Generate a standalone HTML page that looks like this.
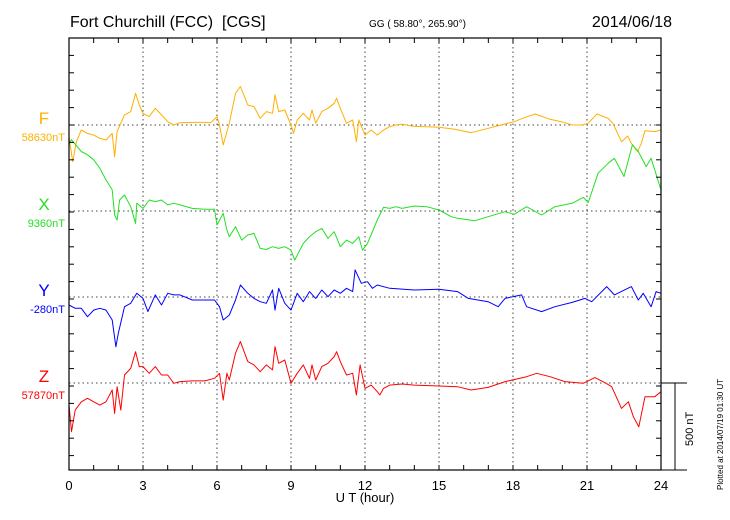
<!DOCTYPE html>
<html><head><meta charset="utf-8"><style>
body{margin:0;background:#fff;width:730px;height:520px;overflow:hidden}
svg{display:block;font-family:"Liberation Sans",sans-serif}
</style></head><body>
<svg id="chart" width="730" height="520" viewBox="0 0 730 520" xmlns="http://www.w3.org/2000/svg">
<text x="70" y="27" font-size="16" style="white-space:pre" xml:space="preserve">Fort Churchill (FCC)  [CGS]</text>
<text x="369" y="27" font-size="10">GG ( 58.80°, 265.90°)</text>
<text x="672" y="27" font-size="16" text-anchor="end">2014/06/18</text>
<text x="365" y="502" font-size="13" text-anchor="middle">U T (hour)</text>
<text transform="translate(723,490) rotate(-90)" font-size="8">Plotted at 2014/07/19 01:30 UT</text>
<text transform="translate(693,446) rotate(-90)" font-size="11">500 nT</text>
<g id="grid"></g><g id="series"></g><g id="axes"></g>
</svg>
<script>
const hourTicks = [0,3,6,9,12,15,18,21,24];
const channelNames = ["F","X","Y","Z"];
const channelBaselines = ["58630nT","9360nT","-280nT","57870nT"];
const scaleBarNT = 500;
const fSeries = [[0,-67],[0.15,-211],[0.3,-96],[0.5,-29],[0.75,-48],[1,-58],[1.25,-77],[1.5,-86],[1.75,-48],[1.85,-182],[1.95,-38],[2.25,58],[2.5,77],[2.7,182],[2.85,115],[3,67],[3.25,48],[3.5,96],[3.75,58],[4,19],[4.25,0],[4.5,13],[5,15],[5.5,15],[5.75,13],[6,48],[6.1,0],[6.25,-115],[6.5,10],[6.75,182],[6.95,221],[7.25,115],[7.5,106],[7.75,38],[8,77],[8.25,67],[8.35,173],[8.5,77],[8.75,86],[9,0],[9.1,-48],[9.25,29],[9.5,67],[9.75,29],[9.85,86],[10,10],[10.25,77],[10.5,96],[10.75,125],[10.85,154],[11,96],[11.25,10],[11.5,29],[11.65,-96],[11.75,29],[12,-58],[12.25,-29],[12.5,-58],[12.75,-29],[13,-10],[13.25,0],[13.5,4],[14,-8],[14.5,-10],[15,-13],[15.65,-25],[16.3,-44],[17,-19],[17.5,0],[18.05,19],[18.5,44],[18.9,63],[19.5,33],[19.96,19],[20.4,0],[20.8,0],[21.05,10],[21.4,63],[21.86,38],[22.05,10],[22.4,-96],[22.65,-63],[22.8,-106],[23.05,-153],[23.2,-106],[23.35,-33],[23.75,-38],[24,-29]];
const xSeries = [[0,390],[0.1,409],[0.5,342],[0.75,323],[1,294],[1.25,246],[1.5,179],[1.75,121],[1.85,-23],[1.95,-52],[2.05,63],[2.25,92],[2.5,25],[2.7,-71],[2.75,44],[3,15],[3.25,63],[3.5,54],[3.75,63],[4,35],[4.25,44],[4.5,35],[5,15],[5.5,10],[5.9,10],[6,-81],[6.25,-13],[6.4,-109],[6.5,-148],[6.75,-90],[7,-167],[7.25,-138],[7.5,-129],[7.75,-215],[8,-221],[8.25,-205],[8.5,-215],[8.75,-205],[9,-225],[9.15,-282],[9.5,-186],[9.75,-148],[10,-119],[10.25,-100],[10.5,-157],[10.75,-119],[11,-205],[11.25,-167],[11.5,-186],[11.75,-148],[11.9,-225],[12.1,-186],[12.5,-52],[12.75,21],[13,15],[13.25,25],[13.5,15],[14,29],[14.5,25],[15,6],[15.5,-33],[15.75,-42],[16.46,-56],[16.99,-33],[17.68,-4],[18.05,-19],[18.55,25],[19.16,-23],[19.7,25],[20.4,44],[20.85,79],[21.05,48],[21.45,217],[21.86,275],[22.11,303],[22.5,198],[22.84,380],[23.08,342],[23.4,255],[23.6,303],[24,121]];
const ySeries = [[0,-46],[0.25,-65],[0.5,-65],[0.75,-113],[1,-75],[1.25,-65],[1.5,-75],[1.75,-132],[1.9,-286],[2,-209],[2.25,-56],[2.5,-36],[2.75,21],[3,-8],[3.2,-84],[3.5,12],[3.75,-46],[4,21],[4.25,12],[4.5,12],[5,-17],[5.5,-17],[5.9,-17],[6.1,-56],[6.25,-132],[6.5,-104],[6.75,-17],[6.95,69],[7.25,21],[7.5,-8],[7.75,-27],[8,-36],[8.25,40],[8.35,-75],[8.5,50],[8.75,-36],[9,-75],[9.25,21],[9.5,-27],[9.75,31],[10,-8],[10.25,40],[10.5,2],[10.75,40],[11,21],[11.25,50],[11.5,31],[11.6,156],[11.85,79],[12.1,88],[12.3,50],[12.5,69],[13,50],[14,40],[15,44],[15.75,31],[16.19,-8],[16.99,-27],[17.4,-56],[17.68,-8],[18.35,12],[18.55,-56],[19.16,-84],[19.7,-56],[20.4,-31],[20.92,-8],[21.19,-27],[21.8,60],[22.11,12],[22.8,60],[23.08,-17],[23.28,21],[23.6,-56],[23.8,31],[24,21]];
const zSeries = [[0,-127],[0.1,-280],[0.25,-156],[0.5,-108],[0.75,-88],[1,-108],[1.25,-127],[1.5,-108],[1.75,-40],[1.85,-175],[1.95,-21],[2.1,-156],[2.25,46],[2.5,84],[2.7,180],[2.85,94],[3,94],[3.25,56],[3.5,94],[3.75,46],[4,46],[4.25,-2],[4.5,8],[5,12],[5.5,12],[5.9,27],[6.1,56],[6.25,-98],[6.4,56],[6.5,17],[6.75,171],[6.95,238],[7.25,123],[7.5,104],[7.75,65],[8,104],[8.25,75],[8.35,209],[8.5,113],[8.75,132],[9,-2],[9.25,56],[9.5,104],[9.75,27],[9.85,104],[10,17],[10.25,94],[10.5,113],[10.75,152],[10.85,180],[11,123],[11.25,46],[11.5,56],[11.65,-69],[11.8,104],[12,-31],[12.25,-12],[12.5,-50],[12.6,-69],[12.75,-31],[13,-12],[13.5,-6],[14,-12],[15,-17],[15.75,-21],[16.3,-40],[16.99,-25],[17.68,8],[18.55,36],[18.96,56],[19.5,36],[20.1,8],[20.85,-2],[21.32,31],[21.73,2],[22,-21],[22.4,-146],[22.68,-108],[22.88,-194],[23.1,-252],[23.35,-79],[23.75,-79],[24,-50]];

const L=69,R=661,T=38,B=470;
const bases=[125,211,297,383];
const colors=["#ffb000","#22e022","#0000ff","#ff0000"];
const pxPerNT=87/scaleBarNT;
const xs=h=>L+(R-L)*h/24;
const ys=(v,i)=>bases[i]-v*pxPerNT;
const NS="http://www.w3.org/2000/svg";
function mk(tag,attrs,parent){const e=document.createElementNS(NS,tag);for(const k in attrs)e.setAttribute(k,attrs[k]);parent.appendChild(e);return e;}
const grid=document.getElementById('grid'),ser=document.getElementById('series'),ax=document.getElementById('axes');
hourTicks.slice(1,-1).forEach(h=>{const l=mk('line',{x1:xs(h),x2:xs(h),y1:T,y2:B,stroke:'#444','stroke-width':1,'stroke-dasharray':'1.5,3'},grid);

});
bases.forEach((b,i)=>{const l=mk('line',{x1:L,x2:R,y1:b,y2:b,stroke:'#444','stroke-width':1,'stroke-dasharray':'1.5,3'},grid);

});
[fSeries,xSeries,ySeries,zSeries].forEach((s,i)=>{const p=mk('polyline',{points:s.map(d=>xs(d[0]).toFixed(1)+','+ys(d[1],i).toFixed(1)).join(' '),fill:'none',stroke:colors[i],'stroke-width':1,'stroke-linejoin':'round'},ser);


const n=mk('text',{x:44,y:bases[i]-1,'font-size':17,fill:colors[i],'text-anchor':'middle'},ax);n.textContent=channelNames[i];


const bl=mk('text',{x:65,y:bases[i]+16,'font-size':11,fill:colors[i],'text-anchor':'end'},ax);bl.textContent=channelBaselines[i];

});
const frame=mk('rect',{x:L,y:T,width:R-L,height:B-T,fill:'none',stroke:'#000','stroke-width':1.2},ax);


for(let h=1;h<24;h++){mk('line',{x1:xs(h),x2:xs(h),y1:T,y2:T+5,stroke:'#000'},ax);mk('line',{x1:xs(h),x2:xs(h),y1:B,y2:B-5,stroke:'#000'},ax);}
for(let y=bases[0]-17.4*5;y<=B+0.5;y+=17.4){mk('line',{x1:L,x2:L+5,y1:y,y2:y,stroke:'#000'},ax);mk('line',{x1:R,x2:R-5,y1:y,y2:y,stroke:'#000'},ax);}
hourTicks.forEach(h=>{const t=mk('text',{x:xs(h),y:490,'font-size':13,'text-anchor':'middle'},ax);t.textContent=h;

});
const sb=mk('path',{d:`M${R} ${bases[3]}H687M675 ${bases[3]}V${B}M${R} ${B}H687`,stroke:'#000',fill:'none','stroke-width':1},ax);


</script>
</body></html>
